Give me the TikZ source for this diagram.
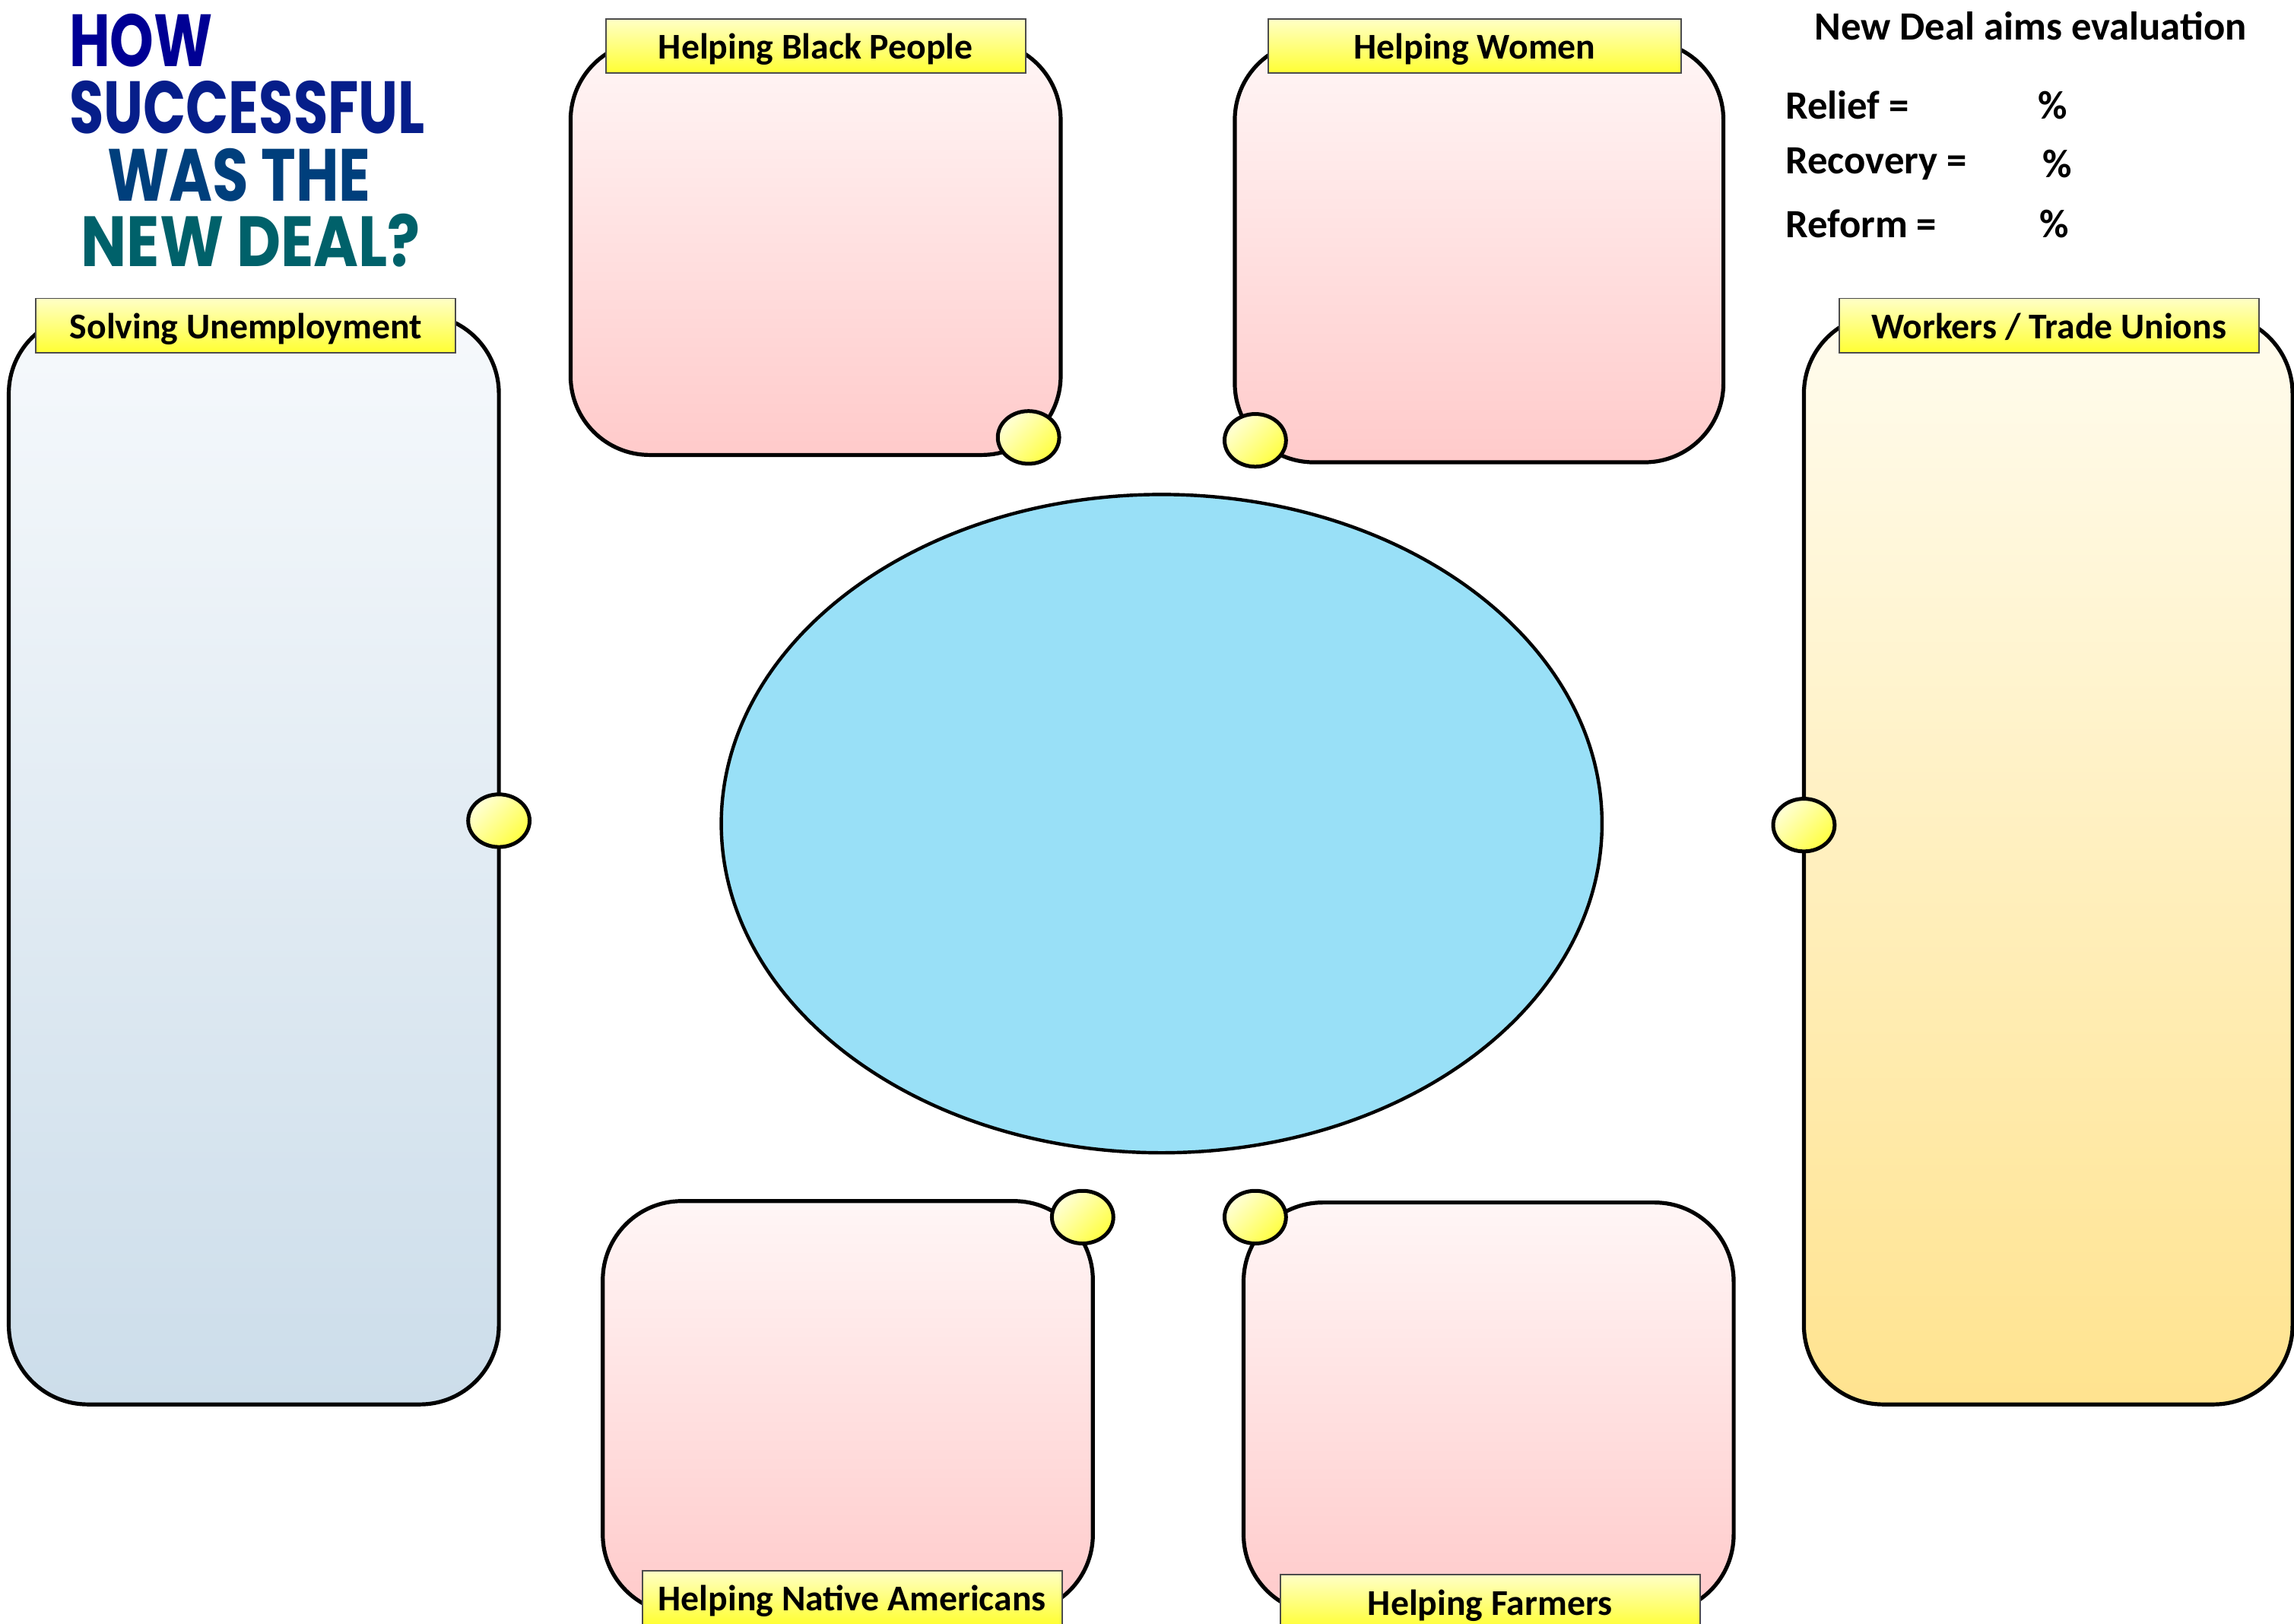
\documentclass[tikz,border=0pt]{standalone}
\usepackage{fontspec}
\setmainfont{Carlito}
\newfontfamily\titlefont{Poppins}
\usetikzlibrary{shapes.geometric}
\definecolor{pinktop}{HTML}{FFF6F6}
\definecolor{pinkbot}{HTML}{FFCACA}
\definecolor{bluetop}{HTML}{F6F9FC}
\definecolor{bluebot}{HTML}{CCDDEA}
\definecolor{creamtop}{HTML}{FFFCEE}
\definecolor{creambot}{HTML}{FFE38F}
\definecolor{labtop}{HTML}{FFFFC6}
\definecolor{labbot}{HTML}{FFFF33}
\definecolor{dottop}{HTML}{FFFFD8}
\definecolor{dotbot}{HTML}{FFFF40}
\definecolor{centre}{HTML}{99E0F7}
\definecolor{tA}{HTML}{000094}
\definecolor{tB}{HTML}{061E8A}
\definecolor{tC}{HTML}{003F7C}
\definecolor{tD}{HTML}{00616A}
\begin{document}
\begin{tikzpicture}[x=0.5pt,y=-0.5pt,
  box/.style={draw=black, line width=1.35pt, rounded corners=27pt, inner sep=0pt, minimum width=167.5pt},
  pinkbox/.style={box, top color=pinktop, bottom color=pinkbot},
  bluebox/.style={box, top color=bluetop, bottom color=bluebot},
  creambox/.style={box, top color=creamtop, bottom color=creambot},
  lab/.style={draw=black!70, line width=0.5pt, top color=labtop, bottom color=labbot,
    minimum width=143.5pt, minimum height=18.5pt, inner sep=0pt,
    text height=9.5pt, text depth=0.5pt,
    font=\bfseries\fontsize{12.4}{14}\selectfont},
  dot/.style={ellipse, draw=black, line width=1.3pt, minimum width=21pt, minimum height=18pt,
    inner sep=0pt, top color=dottop, bottom color=dotbot, shading angle=45},
  info/.style={inner sep=0pt, font=\bfseries\fontsize{13.7}{16}\selectfont},
  ttl/.style={anchor=north west, inner sep=0pt}
]
\useasboundingbox (0,0) rectangle (1568,1109.6);

% central ellipse
\node[ellipse, draw=black, line width=1.15pt, fill=centre, minimum width=301pt, minimum height=225pt, inner sep=0pt] (centre) at (794,563) {};

% boxes
\node[bluebox, minimum height=372.5pt] (unemp) at (173.5,587.5) {};
\node[creambox, minimum height=372.5pt, minimum width=167pt] (workers) at (1400,587.5) {};
\node[pinkbox, minimum height=141.5pt] (black) at (557.5,169.5) {};
\node[pinkbox, minimum height=144pt, minimum width=167pt] (women) at (1011,172) {};
\node[pinkbox, minimum height=141pt] (native) at (579.5,962) {};
\node[pinkbox, minimum height=140.5pt] (farmers) at (1017.5,962.5) {};

% labels
\node[lab] (lunemp) at (168,222.5) {Solving Unemployment};
\node[lab] (lworkers) at (1400.5,222.5) {Workers / Trade Unions};
\node[lab] (lblack) at (557.5,31.5) {Helping Black People};
\node[lab, minimum width=141pt] (lwomen) at (1008,31.5) {Helping Women};
\node[lab] (lnative) at (582.5,1092) {Helping Native Americans};
\node[lab] (lfarmers) at (1018.5,1095) {Helping Farmers};

% connector dots
\node[dot] (dunemp) at (341,561) {};
\node[dot] (dworkers) at (1233,564) {};
\node[dot] (dblack) at (703,299) {};
\node[dot] (dwomen) at (858,301) {};
\node[dot] (dnative) at (740,832) {};
\node[dot] (dfarmers) at (858,832) {};

% title
\node[ttl] (t1) at (47,9) {\resizebox{49pt}{18pt}{\color{tA}\titlefont\bfseries HOW}};
\node[ttl] (t2) at (47,55) {\resizebox{121.5pt}{18pt}{\color{tB}\titlefont\bfseries SUCCESSFUL}};
\node[ttl] (t3) at (73,101) {\resizebox{90pt}{18pt}{\color{tC}\titlefont\bfseries WAS THE}};
\node[ttl] (t4) at (55,146) {\resizebox{116pt}{18pt}{\color{tD}\titlefont\bfseries NEW DEAL?}};

% evaluation
\node[info] (eval) at (1388,18) {New Deal aims evaluation};
\node[info, anchor=west] (relief) at (1220,72) {Relief =};
\node[info] (prelief) at (1403,72) {\%};
\node[info, anchor=west] (recovery) at (1220,112) {Recovery =};
\node[info] (precovery) at (1406,112) {\%};
\node[info, anchor=west] (reform) at (1220,153) {Reform =};
\node[info] (preform) at (1404,153) {\%};
\end{tikzpicture}
\end{document}
